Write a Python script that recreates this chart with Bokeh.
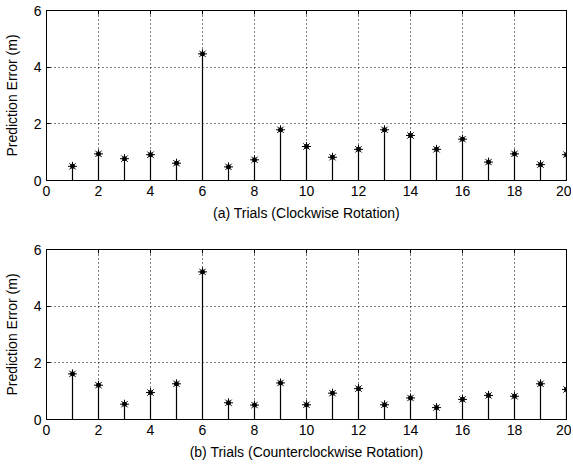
from bokeh.plotting import figure
from bokeh.layouts import column
from bokeh.models import LinearAxis, FixedTicker, ColumnDataSource, Range1d, CustomJSTickFormatter
from bokeh.embed import file_html
from bokeh.resources import INLINE

trials = list(range(1, 21))
err_cw = [0.50, 0.94, 0.77, 0.91, 0.61, 4.47, 0.48, 0.73, 1.79, 1.20,
          0.82, 1.10, 1.79, 1.59, 1.10, 1.46, 0.65, 0.94, 0.56, 0.91]
err_ccw = [1.61, 1.21, 0.54, 0.95, 1.26, 5.21, 0.59, 0.51, 1.29, 0.52,
           0.93, 1.09, 0.52, 0.76, 0.42, 0.71, 0.85, 0.82, 1.26, 1.06]
x_ticks = [0, 2, 4, 6, 8, 10, 12, 14, 16, 18, 20]
y_ticks = [0, 2, 4, 6]
FONT = "Liberation Sans"


def style_axis(ax, ticks, labels=True):
    ax.ticker = FixedTicker(ticks=ticks)
    ax.major_tick_in = 4
    ax.major_tick_out = 0
    ax.minor_tick_line_color = None
    ax.axis_line_color = "black"
    ax.major_tick_line_color = "black"
    ax.major_label_text_font = FONT
    ax.major_label_text_font_size = "14px"
    ax.major_label_text_color = "black"
    ax.axis_label_text_font = FONT
    ax.axis_label_text_font_size = "14px"
    ax.axis_label_text_font_style = "normal"
    ax.axis_label_text_color = "black"
    if not labels:
        ax.major_label_standoff = 0
        ax.formatter = CustomJSTickFormatter(code="return '';")


def make(vals, xlabel, top_border, height):
    p = figure(width=571, height=height, output_backend="svg", toolbar_location=None,
               x_range=Range1d(0, 20), y_range=Range1d(0, 6),
               min_border_left=45, min_border_right=5, min_border_top=top_border,
               min_border_bottom=46, x_axis_label=xlabel, y_axis_label="Prediction Error (m)")
    p.outline_line_color = "black"
    p.outline_line_width = 1
    p.background_fill_color = "white"
    p.border_fill_color = "white"
    for ax in p.xaxis:
        style_axis(ax, x_ticks)
    for ax in p.yaxis:
        style_axis(ax, y_ticks)
    top = LinearAxis()
    style_axis(top, x_ticks, labels=False)
    right = LinearAxis()
    style_axis(right, y_ticks, labels=False)
    p.add_layout(top, "above")
    p.add_layout(right, "right")
    p.xaxis.major_label_standoff = 5
    p.xaxis.axis_label_standoff = 6
    p.yaxis.major_label_standoff = 5
    p.yaxis.axis_label_standoff = 11
    top.major_label_standoff = 0
    right.major_label_standoff = 0
    p.xgrid.ticker = FixedTicker(ticks=x_ticks)
    p.ygrid.ticker = FixedTicker(ticks=y_ticks)
    for g in (p.xgrid, p.ygrid):
        g.grid_line_color = "black"
        g.grid_line_dash = "1 3"
        g.grid_line_width = 1
    src = ColumnDataSource(dict(x=trials, y=vals, y0=[0] * len(vals)))
    p.segment(x0="x", y0="y0", x1="x", y1="y", source=src, line_color="black", line_width=1.2)
    p.scatter(x="x", y="y", source=src, marker="asterisk", size=9, line_color="black", line_width=1)
    p.scatter(x="x", y="y", source=src, marker="circle", size=4, fill_color="black", line_color="black")
    return p


p1 = make(err_cw, "(a) Trials (Clockwise Rotation)", 10, 226)
p2 = make(err_ccw, "(b) Trials (Counterclockwise Rotation)", 23, 239)
p = column(p1, p2, spacing=0)
open("out.html", "w").write(file_html(p, INLINE))
